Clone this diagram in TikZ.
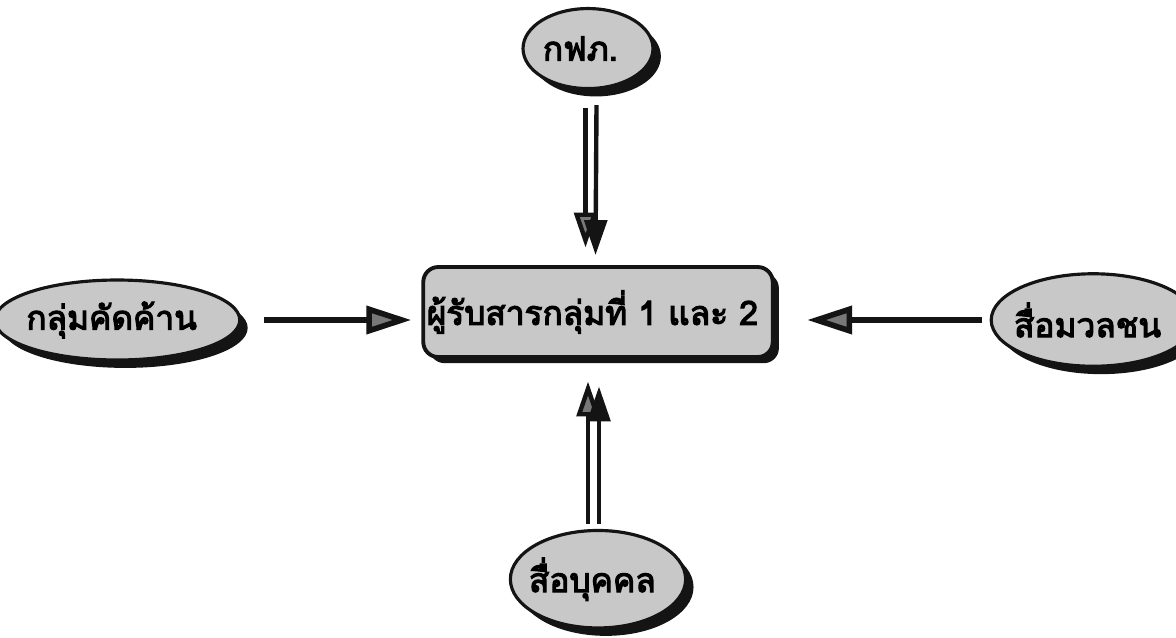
\documentclass[tikz,border=0pt]{standalone}
\usepackage{fontspec}
\newfontfamily\thaifont[Script=Thai,FakeBold=3.5]{Loma}
\usepackage{xcolor}
\definecolor{SpeckleGray}{RGB}{200,200,200}
\definecolor{InkBlack}{RGB}{20,20,20}
\usepackage{tikz}
\usetikzlibrary{
    arrows.meta,
    positioning,
    shapes.geometric,
    shadows
}

\begin{document}
\begin{tikzpicture}[
    x=0.02cm,
    y=-0.02cm,
%
    source/.style={
        draw=InkBlack,
        ellipse,
        fill=SpeckleGray,
        inner ysep=0pt,
        inner xsep=-4pt,
        align=center,
        font=\thaifont\fontsize{19}{22}\selectfont,
        line width=1.8pt,
        drop shadow={
            shadow xshift=4.5pt,
            shadow yshift=-4.5pt,
            fill=InkBlack,
            opacity=1
        }
    },
%
    receiver/.style={
        draw=InkBlack,
        rounded corners=3mm,
        fill=SpeckleGray,
        minimum width=6.6cm,
        minimum height=1.8cm,
        inner xsep=2pt,
        align=center,
        font=\thaifont\fontsize{19}{22}\selectfont,
        line width=2.2pt,
        drop shadow={
            shadow xshift=3.5pt,
            shadow yshift=-3.5pt,
            fill=InkBlack,
            opacity=1
        }
    },
%
    arrow/.style={
        -{Triangle[length=7mm,width=4.5mm]},
        line width=2.5pt,
        color=InkBlack
    },
%
    palearrow/.style={
        arrow,
        -{Triangle[length=7mm,width=4.5mm,fill=SpeckleGray!60!black]}
    },
%
    widearrow/.style={
        arrow,
        line width=3.2pt,
        -{Triangle[length=9mm,width=5.5mm,fill=SpeckleGray!60!black]}
    }
]
\useasboundingbox (0,0) rectangle (1176,637);
%
% Receivers in the middle
%
\node[receiver] (receiver) at (598,312) {
    ผู้รับสารกลุ่มที่ 1 และ 2
};
%
% Four sources round it
%
\node[
    source,
    minimum width=2.6cm,
    minimum height=1.6cm,
    above=3.5cm of receiver,
    xshift=-0.2cm
] (pea) {
    กฟภ.
};
%
\node[
    source,
    minimum width=4.9cm,
    minimum height=1.6cm,
    left=3.6cm of receiver,
    yshift=-0.16cm
] (oppose) {
    กลุ่มคัดค้าน
};
%
\node[
    source,
    minimum width=3.75cm,
    minimum height=1.85cm,
    right=4.3cm of receiver,
    yshift=-0.16cm
] (massmedia) {
    สื่อมวลชน
};
%
\node[
    source,
    minimum width=3.3cm,
    minimum height=1.95cm,
    below=3.4cm of receiver
] (personal) {
    สื่อบุคคล
};
%
% Arrows into the receivers
%
\draw[palearrow]
    ([xshift=-0.05cm,yshift=-0.35cm]pea.south)
    --
    ([xshift=-0.25cm,yshift=0.35cm]receiver.north);
\draw[arrow]
    ([xshift=0.17cm,yshift=-0.3cm]pea.south)
    --
    ([xshift=-0.05cm,yshift=0.2cm]receiver.north);
%
\draw[widearrow]
    ([xshift=0.45cm]oppose.east)
    --
    ([xshift=-0.2cm,yshift=-0.16cm]receiver.west);
%
\draw[widearrow]
    ([xshift=-0.15cm]massmedia.west)
    --
    ([xshift=0.65cm,yshift=-0.16cm]receiver.east);
%
\draw[palearrow]
    ([xshift=-0.2cm,yshift=0.1cm]personal.north)
    --
    ([xshift=-0.2cm,yshift=-0.45cm]receiver.south);
\draw[arrow]
    ([xshift=0.02cm,yshift=0.1cm]personal.north)
    --
    ([xshift=0.02cm,yshift=-0.55cm]receiver.south);
%
\end{tikzpicture}
\end{document}
